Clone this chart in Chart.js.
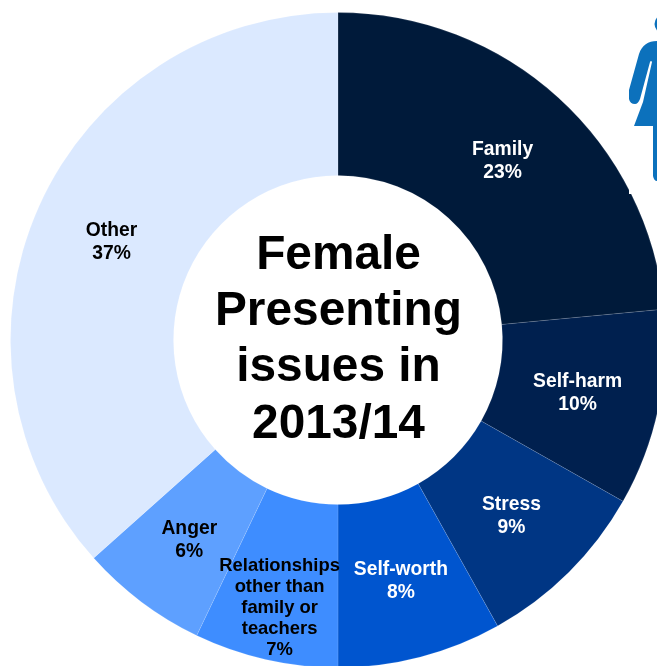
<!DOCTYPE html>
<html>
<head>
<meta charset="utf-8">
<style>
html,body{margin:0;padding:0;background:#fff;width:657px;height:666px;overflow:hidden}
#wrap{position:relative;width:657px;height:666px;overflow:hidden}
canvas{position:absolute;left:-2px;top:0}
svg{position:absolute;left:0;top:0;z-index:2}
</style>
<script src="https://cdn.jsdelivr.net/npm/chart.js@4/dist/chart.umd.min.js"></script>
</head>
<body>
<div id="wrap">
<canvas id="c" width="680" height="680" style="width:680px;height:680px"></canvas>
<svg width="657" height="666" viewBox="0 0 657 666">
  <rect x="629" y="0" width="28" height="194" fill="#ffffff"/>
  <circle cx="664" cy="24" r="9.5" fill="#0c71bc"/>
  <path fill="#0c71bc" d="M657 41 C648 41 642 45 639 54 L629 90 L629 99 Q630 104 635 104 Q638 104 640 99 L650 62 Q651 60 652 62 L643 102 L634 126 L653 126 L653 176 Q654 181 657 181 Z"/>
</svg>
</div>
<script>
const categories = ["Family", "Self-harm", "Stress", "Self-worth", "Relationships other than family or teachers", "Anger", "Other"];
const sliceValues = [23.5, 9.7, 8.7, 8.1, 7.1, 6.3, 36.6];
const percentLabels = ["23%", "10%", "9%", "8%", "7%", "6%", "37%"];
const labelLines = [["Family"], ["Self-harm"], ["Stress"], ["Self-worth"], ["Relationships", "other than", "family or", "teachers"], ["Anger"], ["Other"]];
const sliceColors = ["#001a3a", "#00204f", "#003684", "#0055cf", "#3e8dff", "#5ea0ff", "#dbe9ff"];
const textColors = ["#ffffff", "#ffffff", "#ffffff", "#ffffff", "#000000", "#000000", "#000000"];
const labelShift = [[-1, 3], [-1, 2], [0, 2], [1, 3], [-4, 28], [-1, 3], [-2, 3]];
const centerTitle = ["Female", "Presenting", "issues in", "2013/14"];

const textPlugin = {
  id: "ringText",
  afterDraw(chart) {
    const ctx = chart.ctx;
    const arcs = chart.getDatasetMeta(0).data;
    ctx.save();
    ctx.textAlign = "center";
    ctx.textBaseline = "middle";
    arcs.forEach((arc, i) => {
      const p = arc.getCenterPoint();
      const lines = labelLines[i].concat(percentLabels[i]);
      const lh = lines.length > 2 ? 21 : 23;
      ctx.font = "bold " + (lines.length > 2 ? 18.4 : 19.3) + "px 'Liberation Sans', Arial, sans-serif";
      ctx.fillStyle = textColors[i];
      const cx = p.x + labelShift[i][0];
      const cy = p.y + labelShift[i][1];
      lines.forEach((t, k) => ctx.fillText(t, cx, cy + (k - (lines.length - 1) / 2) * lh));
    });
    const mx = (chart.chartArea.left + chart.chartArea.right) / 2;
    const my = (chart.chartArea.top + chart.chartArea.bottom) / 2;
    ctx.font = "bold 47.8px 'Liberation Sans', Arial, sans-serif";
    ctx.fillStyle = "#000000";
    centerTitle.forEach((t, k) => ctx.fillText(t, mx + 0.5, my + (k - 1.5) * 56.3));
    ctx.restore();
  }
};

new Chart(document.getElementById("c"), {
  type: "doughnut",
  data: {
    labels: categories,
    datasets: [{
      data: sliceValues,
      backgroundColor: sliceColors,
      borderColor: "rgba(255,255,255,0.12)",
      borderWidth: 1
    }]
  },
  options: {
    responsive: false,
    animation: false,
    cutout: 164.5,
    layout: { padding: 12 },
    plugins: { legend: { display: false }, tooltip: { enabled: false }, title: { display: false } }
  },
  plugins: [textPlugin]
});
</script>
</body>
</html>
